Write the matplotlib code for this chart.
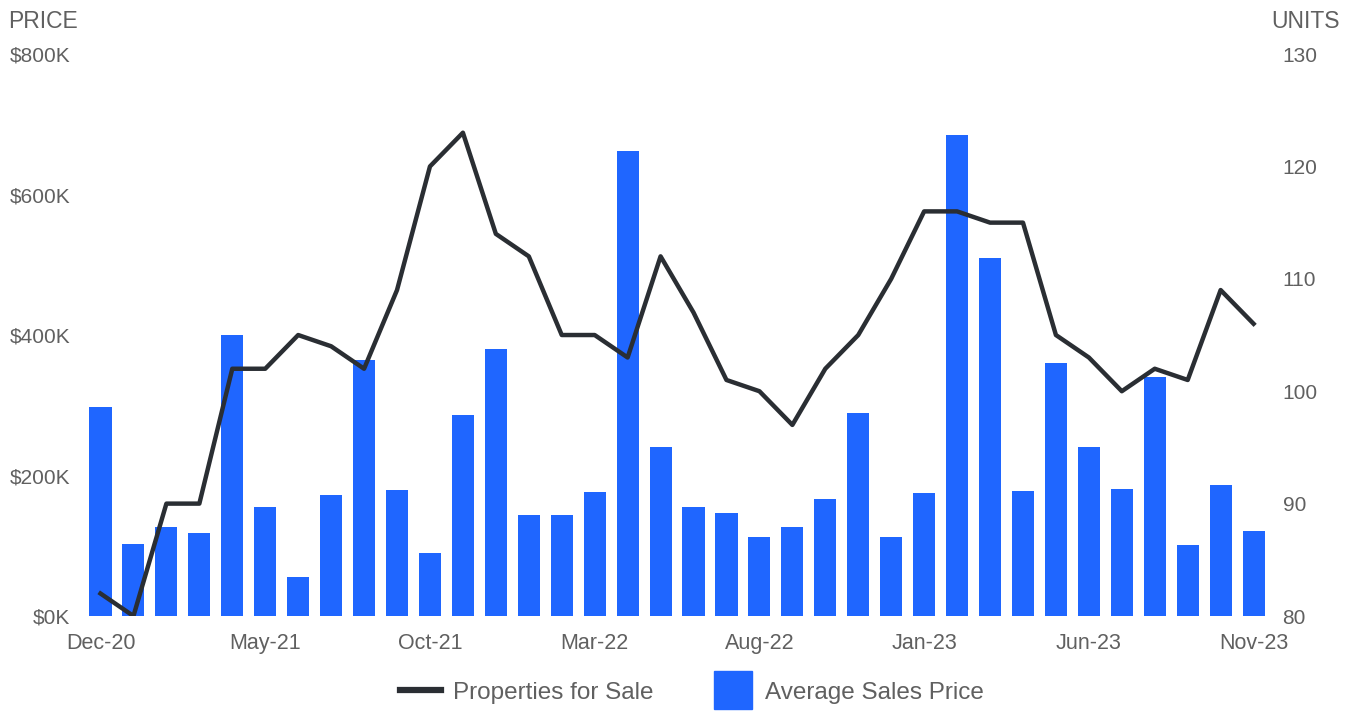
import matplotlib.pyplot as plt
import numpy as np
from matplotlib.lines import Line2D
from matplotlib.ticker import FuncFormatter

plt.rcParams['font.family'] = ['Liberation Sans', 'DejaVu Sans']

# monthly data Dec-20 .. Nov-23
months = ['Dec-20', 'Jan-21', 'Feb-21', 'Mar-21', 'Apr-21', 'May-21', 'Jun-21', 'Jul-21',
          'Aug-21', 'Sep-21', 'Oct-21', 'Nov-21', 'Dec-21', 'Jan-22', 'Feb-22', 'Mar-22',
          'Apr-22', 'May-22', 'Jun-22', 'Jul-22', 'Aug-22', 'Sep-22', 'Oct-22', 'Nov-22',
          'Dec-22', 'Jan-23', 'Feb-23', 'Mar-23', 'Apr-23', 'May-23', 'Jun-23', 'Jul-23',
          'Aug-23', 'Sep-23', 'Oct-23', 'Nov-23']
avg_price = [297, 103, 126, 118, 400, 155, 55, 172, 365, 180, 89, 286,
             380, 144, 144, 177, 662, 240, 155, 146, 112, 127, 167, 289,
             112, 175, 685, 509, 178, 360, 241, 181, 340, 101, 186, 121]  # $K
props_for_sale = [82, 80, 90, 90, 102, 102, 105, 104, 102, 109, 120, 123,
                  114, 112, 105, 105, 103, 112, 107, 101, 100, 97, 102, 105,
                  110, 116, 116, 115, 115, 105, 103, 100, 102, 101, 109, 106]
shown_ticks = ['Dec-20', 'May-21', 'Oct-21', 'Mar-22', 'Aug-22', 'Jan-23', 'Jun-23', 'Nov-23']

blue = '#1f66ff'
dark = '#2a2e33'
grey = '#606060'

x = np.arange(len(months))

fig = plt.figure(figsize=(13.62, 7.11), dpi=100)
ax = fig.add_axes([0.0617, 0.1336, 0.8708, 0.7904])
ax2 = ax.twinx()

ax.bar(x, avg_price, width=0.67, color=blue, zorder=1)
ax2.plot(x, props_for_sale, color=dark, linewidth=3.2, zorder=3)

ax.set_xlim(-0.5, len(months) - 0.5)
ax.set_ylim(0, 800)
ax.set_yticks([0, 200, 400, 600, 800])
ax.yaxis.set_major_formatter(FuncFormatter(lambda v, p: f'${v:.0f}K'))
ax2.set_ylim(80, 130)
ax2.set_yticks([80, 90, 100, 110, 120, 130])

idx = [months.index(m) for m in shown_ticks]
ax.set_xticks(idx)
ax.set_xticklabels(shown_ticks)

for a in (ax, ax2):
    for s in a.spines.values():
        s.set_visible(False)
    a.tick_params(length=0, labelsize=15, colors=grey)
ax.tick_params(axis='y', pad=10)
ax2.tick_params(axis='y', pad=9)
ax.tick_params(axis='x', pad=12)
for lbl in ax.get_xticklabels():
    lbl.set_fontsize(15.5)

fig.text(0.006, 0.97, 'PRICE', fontsize=16.5, color=grey, va='center', ha='left')
fig.text(0.984, 0.97, 'UNITS', fontsize=16.5, color=grey, va='center', ha='right')

handles = [Line2D([], [], color=dark, linewidth=4.5),
           Line2D([], [], color=blue, marker='s', linestyle='none', markersize=27)]
fig.legend(handles, ['Properties for Sale', 'Average Sales Price'],
           loc='center', bbox_to_anchor=(0.508, 0.026), ncol=2, frameon=False,
           fontsize=17.5, handlelength=1.7, handletextpad=0.5, columnspacing=2.4,
           labelcolor=grey)

fig.savefig('out.png', dpi=100)
